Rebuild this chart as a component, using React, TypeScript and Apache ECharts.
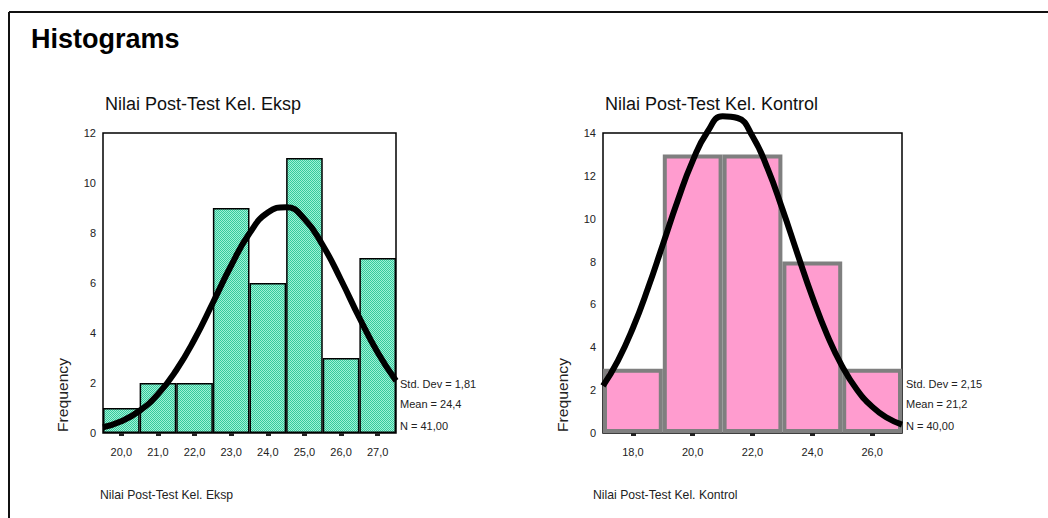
import React, { useEffect, useRef } from 'react';
import * as echarts from 'echarts';

// ---------- data ----------
const eksCategories = ['20,0', '21,0', '22,0', '23,0', '24,0', '25,0', '26,0', '27,0'];
const eksCounts = [1, 2, 2, 9, 6, 11, 3, 7];
const eksCurveX = [19.5, 20, 20.5, 21, 21.5, 22, 22.5, 23, 23.5, 24, 24.5, 25, 25.5, 26, 26.5, 27, 27.5];
const eksCurveY = [0.23, 0.47, 0.89, 1.55, 2.51, 3.75, 5.21, 6.7, 7.99, 8.82, 9.03, 8.56, 7.51, 6.12, 4.61, 3.22, 2.09];
const eksStats = ['Std. Dev = 1,81', 'Mean = 24,4', 'N = 41,00'];
const eksTitle = 'Nilai Post-Test Kel. Eksp';

const konCategories = ['18,0', '20,0', '22,0', '24,0', '26,0'];
const konCounts = [3, 13, 13, 8, 3];
const konCurveX = [17, 17.5, 18, 18.5, 19, 19.5, 20, 20.5, 21, 21.5, 22, 22.5, 23, 23.5, 24, 24.5, 25, 25.5, 26, 26.5, 27];
const konCurveY = [2.2, 3.38, 4.9, 6.74, 8.79, 10.85, 12.7, 14.07, 14.78, 14.7, 13.85, 12.36, 10.45, 8.38, 6.36, 4.57, 3.11, 2.01, 1.23, 0.71, 0.39];
const konStats = ['Std. Dev = 2,15', 'Mean = 21,2', 'N = 40,00'];
const konTitle = 'Nilai Post-Test Kel. Kontrol';

const FONT = 'Liberation Sans, Arial, sans-serif';

export default function App() {
  const ref = useRef<HTMLDivElement>(null);

  useEffect(() => {
    if (!ref.current) return;
    const chart = echarts.init(ref.current, undefined, { renderer: 'svg' });

    // hatch pattern for the left histogram bars
    const cv = document.createElement('canvas');
    cv.width = 2;
    cv.height = 2;
    const cx = cv.getContext('2d');
    if (cx) {
      cx.fillStyle = '#9ef2d6';
      cx.fillRect(0, 0, 2, 2);
      cx.fillStyle = '#36c99c';
      cx.fillRect(0, 0, 1, 1);
      cx.fillRect(1, 1, 1, 1);
    }

    const labelStyle = { fontFamily: FONT, fontSize: 11, color: '#222' };

    const statText = (x: number, lines: string[]) =>
      lines.map((t, i) => ({
        type: 'text',
        x,
        y: [384, 404, 426][i],
        style: { text: t, font: `11px ${FONT}`, fill: '#222', textVerticalAlign: 'middle', verticalAlign: 'middle' },
      }));

    const option: any = {
      animation: false,
      backgroundColor: '#fff',
      grid: [
        { left: 103, top: 133, width: 293, height: 300, show: true, borderColor: '#000', borderWidth: 1.5, backgroundColor: 'transparent' },
        { left: 603, top: 133, width: 299, height: 300, show: true, borderColor: '#000', borderWidth: 1.5, backgroundColor: 'transparent' },
      ],
      xAxis: [
        {
          type: 'category', gridIndex: 0, data: eksCategories, boundaryGap: true,
          axisLine: { show: false },
          axisTick: { show: true, alignWithLabel: true, length: 3, lineStyle: { color: '#222', width: 5 } },
          axisLabel: { ...labelStyle, margin: 13 },
        },
        { type: 'value', gridIndex: 0, min: 19.5, max: 27.5, show: false },
        {
          type: 'category', gridIndex: 1, data: konCategories, boundaryGap: true,
          axisLine: { show: false },
          axisTick: { show: true, alignWithLabel: true, length: 3, lineStyle: { color: '#222', width: 5 } },
          axisLabel: { ...labelStyle, margin: 13 },
        },
        { type: 'value', gridIndex: 1, min: 17, max: 27, show: false },
      ],
      yAxis: [
        {
          type: 'value', gridIndex: 0, min: 0, max: 12, interval: 2,
          axisLine: { show: false }, axisTick: { show: false }, splitLine: { show: false },
          axisLabel: { ...labelStyle, margin: 7 },
        },
        {
          type: 'value', gridIndex: 1, min: 0, max: 14, interval: 2,
          axisLine: { show: false }, axisTick: { show: false }, splitLine: { show: false },
          axisLabel: { ...labelStyle, margin: 7 },
        },
      ],
      series: [
        {
          type: 'bar', xAxisIndex: 0, yAxisIndex: 0, data: eksCounts, barCategoryGap: '0%',
          itemStyle: { color: { image: cv, repeat: 'repeat' }, borderColor: '#000', borderWidth: 1.5 },
          z: 2,
        },
        {
          type: 'line', xAxisIndex: 1, yAxisIndex: 0, smooth: true, symbol: 'none', clip: false,
          data: eksCurveX.map((x, i) => [x, eksCurveY[i]]),
          lineStyle: { color: '#000', width: 6 },
          z: 5,
        },
        {
          type: 'bar', xAxisIndex: 2, yAxisIndex: 1, data: konCounts, barCategoryGap: '0%',
          itemStyle: { color: '#ff9ccf', borderColor: '#7f7f7f', borderWidth: 4 },
          z: 2,
        },
        {
          type: 'line', xAxisIndex: 3, yAxisIndex: 1, smooth: true, symbol: 'none', clip: false,
          data: konCurveX.map((x, i) => [x, konCurveY[i]]),
          lineStyle: { color: '#000', width: 6 },
          z: 5,
        },
      ],
      graphic: [
        { type: 'line', shape: { x1: 9, y1: 12, x2: 1048, y2: 12 }, style: { stroke: '#111', lineWidth: 2 } },
        { type: 'line', shape: { x1: 9, y1: 12, x2: 9, y2: 518 }, style: { stroke: '#111', lineWidth: 2 } },
        {
          type: 'text', x: 31, y: 39,
          style: { text: 'Histograms', font: `bold 27px ${FONT}`, fill: '#000', textVerticalAlign: 'middle', verticalAlign: 'middle' },
        },
        {
          type: 'text', x: 105, y: 104,
          style: { text: eksTitle, font: `18px ${FONT}`, fill: '#111', textVerticalAlign: 'middle', verticalAlign: 'middle' },
        },
        {
          type: 'text', x: 605, y: 104,
          style: { text: konTitle, font: `18px ${FONT}`, fill: '#111', textVerticalAlign: 'middle', verticalAlign: 'middle' },
        },
        {
          type: 'text', x: 63, y: 395, rotation: Math.PI / 2, scaleX: 1.12,
          style: { text: 'Frequency', font: `14px ${FONT}`, fill: '#222', textAlign: 'center', align: 'center', textVerticalAlign: 'middle', verticalAlign: 'middle' },
        },
        {
          type: 'text', x: 563, y: 395, rotation: Math.PI / 2, scaleX: 1.12,
          style: { text: 'Frequency', font: `14px ${FONT}`, fill: '#222', textAlign: 'center', align: 'center', textVerticalAlign: 'middle', verticalAlign: 'middle' },
        },
        ...statText(400, eksStats),
        ...statText(906, konStats),
        {
          type: 'text', x: 100, y: 495, scaleX: 0.94,
          style: { text: eksTitle, font: `13px ${FONT}`, fill: '#222', textVerticalAlign: 'middle', verticalAlign: 'middle' },
        },
        {
          type: 'text', x: 593, y: 495, scaleX: 0.94,
          style: { text: konTitle, font: `13px ${FONT}`, fill: '#222', textVerticalAlign: 'middle', verticalAlign: 'middle' },
        },
      ],
    };

    chart.setOption(option);
    return () => chart.dispose();
  }, []);

  return (
    <div
      ref={ref}
      style={{ position: 'fixed', left: 0, top: 0, width: 1048, height: 518, background: '#fff' }}
    />
  );
}
